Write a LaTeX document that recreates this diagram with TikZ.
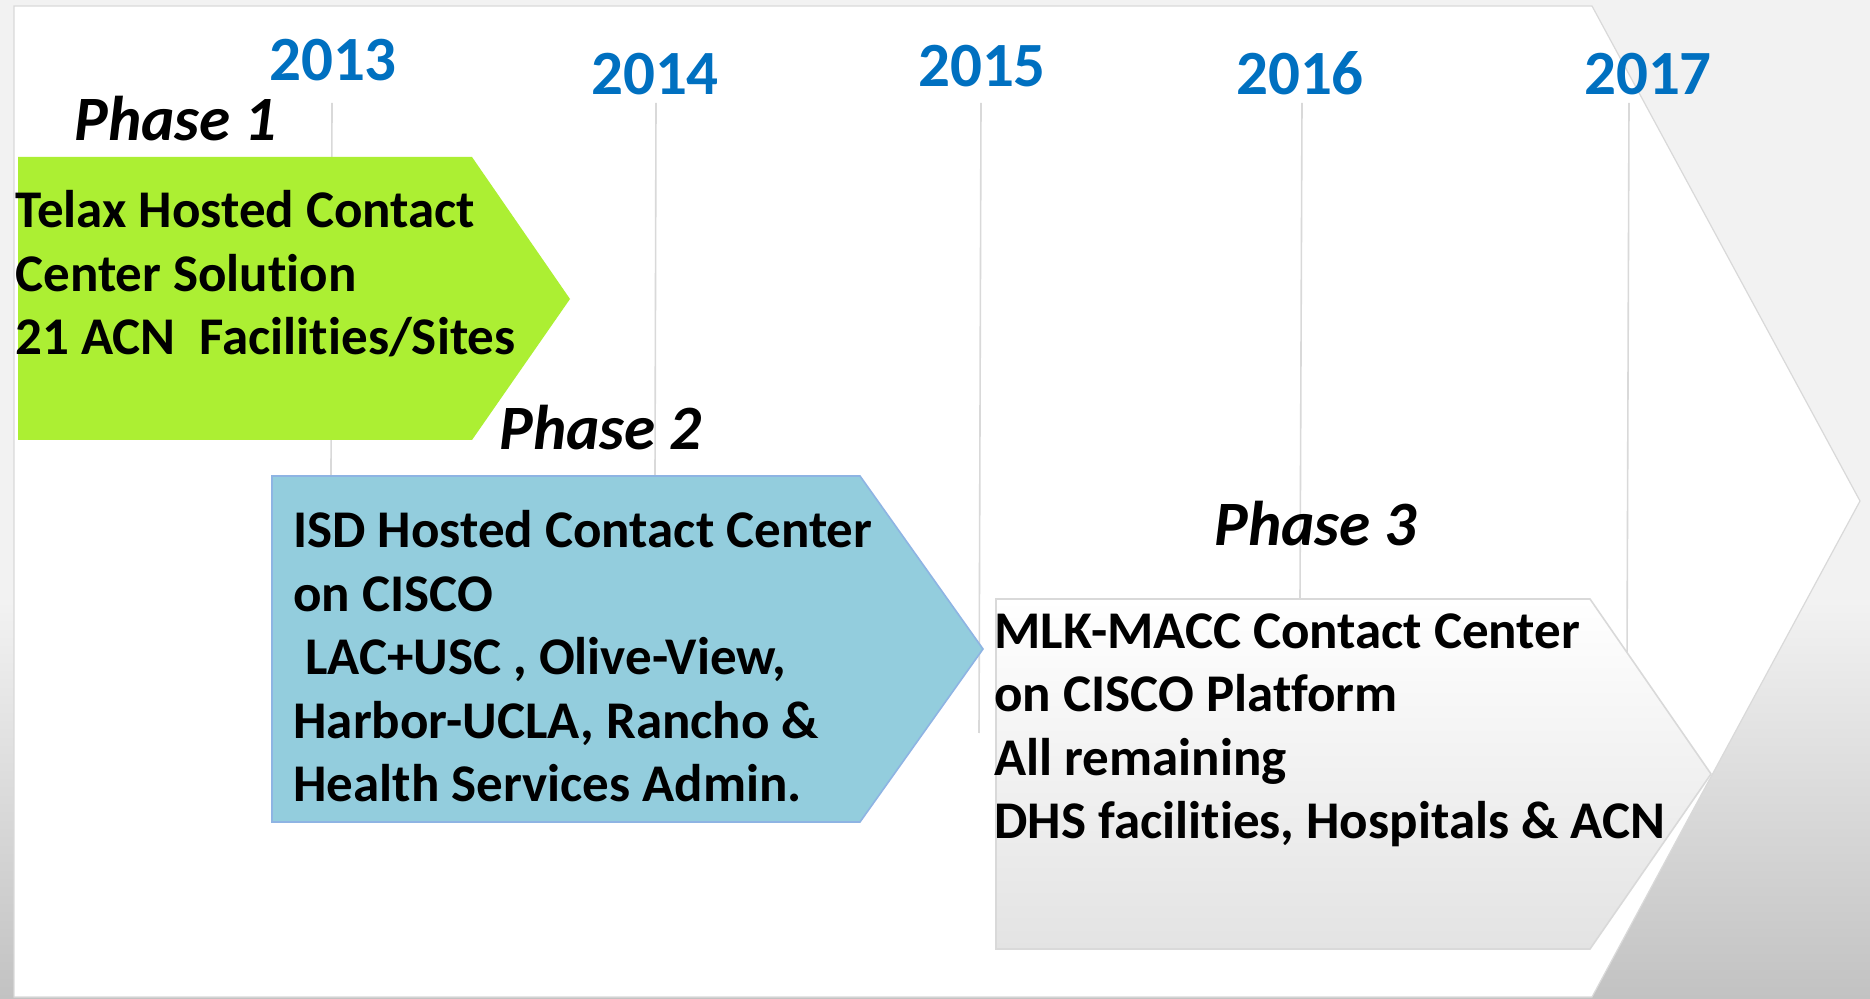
\documentclass[tikz,border=0pt]{standalone}
\usepackage{fontspec}
\setmainfont{Carlito}[Ligatures=NoCommon]
\definecolor{bggray}{HTML}{F2F2F2}
\definecolor{bgdark}{HTML}{C2C2C2}
\definecolor{linegray}{HTML}{D9D9D9}
\definecolor{yearblue}{HTML}{0070C0}
\definecolor{greenfill}{HTML}{ACEF33}
\definecolor{bluefill}{HTML}{93CDDD}
\definecolor{blueline}{HTML}{8EB4E3}
\definecolor{grayend}{HTML}{E3E3E3}
\begin{document}
\begin{tikzpicture}[x=0.5pt,y=-0.5pt,
  yearlbl/.style={font=\bfseries\fontsize{31.5}{36}\selectfont, text=yearblue, inner sep=0, anchor=base},
  phaselbl/.style={font=\bfseries\itshape\fontsize{31.6}{38}\selectfont, inner sep=0, anchor=base west},
  boxtxt/.style={font=\bfseries\fontsize{26.5}{31.8}\selectfont, align=left, inner sep=0, anchor=base west},
  tick/.style={draw=linegray, line width=0.8pt}]
\useasboundingbox (0,0) rectangle (1870,999);
% background
\fill[bggray] (0,0) rectangle (1870,999);
\shade[top color=bggray, bottom color=bgdark] (0,600) rectangle (1870,999);
% big white arrow
\draw[draw=linegray, line width=0.6pt, fill=white] (14,6) -- (1592,6) -- (1860,501) -- (1592,997) -- (14,997) -- cycle;
% year labels
\node[yearlbl] (y2013) at (333,81) {2013};
\node[yearlbl] (y2014) at (655,95) {2014};
\node[yearlbl] (y2015) at (982,87) {2015};
\node[yearlbl] (y2016) at (1300,95) {2016};
\node[yearlbl] (y2017) at (1648,95) {2017};
% tick lines
\coordinate (t13a) at (332,103); \coordinate (t13b) at (331,476);
\coordinate (t14a) at (656,103); \coordinate (t14b) at (655,476);
\coordinate (t15a) at (981,103); \coordinate (t15b) at (979,733);
\coordinate (t16a) at (1302,103); \coordinate (t16b) at (1300,599);
\coordinate (t17a) at (1629,103); \coordinate (t17b) at (1627,660);
\draw[tick] (t13a) -- (t13b);
\draw[tick] (t14a) -- (t14b);
\draw[tick] (t15a) -- (t15b);
\draw[tick] (t16a) -- (t16b);
\draw[tick] (t17a) -- (t17b);
% phase boxes
\fill[greenfill] (18,157) -- (472,157) -- (570,299) -- (472,440) -- (18,440) -- cycle;
\draw[draw=blueline, line width=0.8pt, fill=bluefill] (272,476) -- (860,476) -- (983,649) -- (860,822) -- (272,822) -- cycle;
\draw[draw=linegray, line width=0.8pt, top color=white, bottom color=grayend] (996,599) -- (1590,599) -- (1711,774) -- (1590,949) -- (996,949) -- cycle;
% phase labels
\node[phaselbl] (ph1) at (74,141) {Phase 1};
\node[phaselbl] (ph2) at (499,450) {Phase 2};
\node[phaselbl] (ph3) at (1214,546) {Phase 3};
% box texts (anchored at last baseline)
\node[boxtxt] (txt1) at (15,355) {Telax Hosted Contact\\Center Solution\\21 ACN\ \ Facilities/Sites};
\node[boxtxt] (txt2) at (293,802) {ISD Hosted Contact Center\\on CISCO\\\hspace*{6pt}LAC+USC , Olive-View,\\Harbor-UCLA, Rancho \&\\Health Services Admin.};
\node[boxtxt] (txt3) at (994,839) {MLK-MACC Contact Center\\on CISCO Platform\\All remaining\\DHS facilities, Hospitals \& ACN};
\end{tikzpicture}
\end{document}
